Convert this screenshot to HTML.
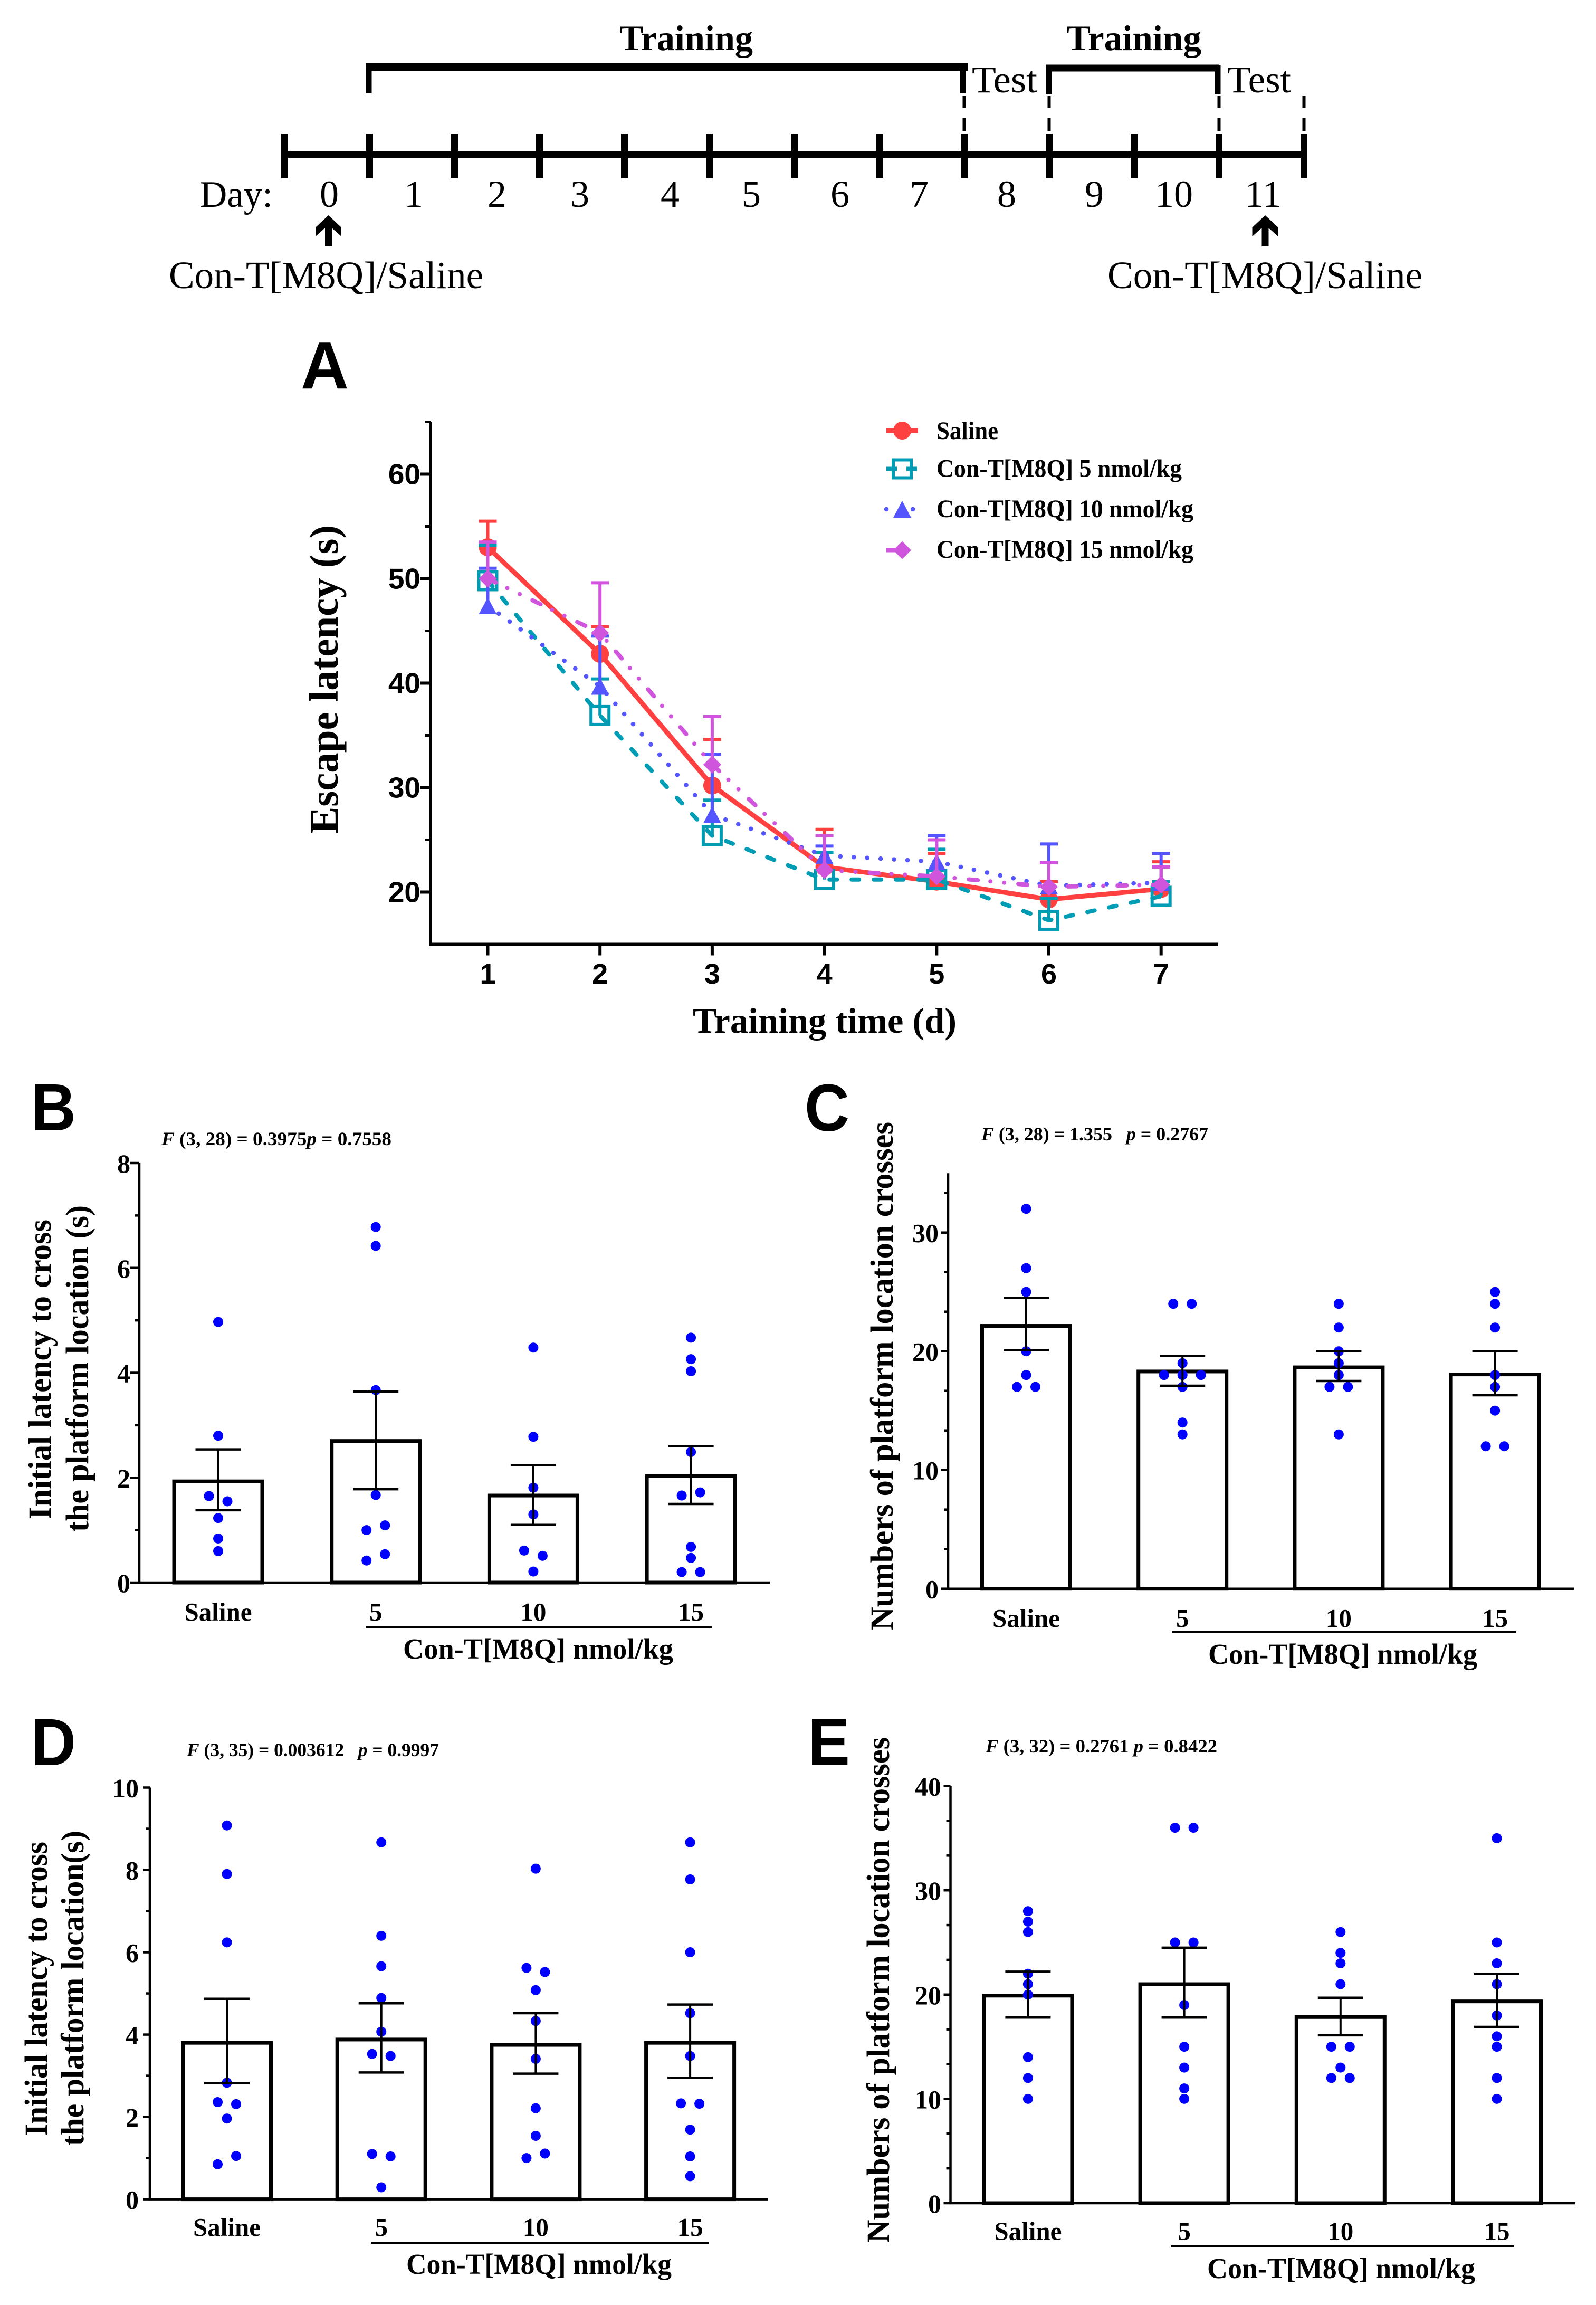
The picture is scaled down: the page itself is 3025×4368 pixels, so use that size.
<!DOCTYPE html>
<html lang="en">
<head>
<meta charset="utf-8">
<title>Con-T[M8Q] water maze results</title>
<style>
html,body{margin:0;padding:0;background:#fff;width:3025px;height:4368px;overflow:hidden}
svg{display:block}
text{font-family:"Liberation Serif",serif;fill:#000}
.b{font-weight:700}
.letter{font-family:"Liberation Sans",sans-serif;font-weight:700;font-size:126px}
.stat{font-weight:700;font-size:36px}
.title{font-weight:700}
</style>
</head>
<body>
<svg id="figure" xmlns="http://www.w3.org/2000/svg" width="3025" height="4368" viewBox="0 0 3025 4368">
<rect x="0" y="0" width="3025" height="4368" fill="#fff"/>

<g id="timeline">
<text class="b" x="1174" y="95" font-size="68" textLength="253" lengthAdjust="spacingAndGlyphs">Training</text>
<text class="b" x="2021" y="95" font-size="68" textLength="256" lengthAdjust="spacingAndGlyphs">Training</text>
<text x="1842" y="175" font-size="72" textLength="124" lengthAdjust="spacingAndGlyphs">Test</text>
<text x="2326" y="175" font-size="72" textLength="121" lengthAdjust="spacingAndGlyphs">Test</text>
<path d="M699 177V127H1825V177" fill="none" stroke="#000" stroke-width="11"/>
<path d="M694 127H1834" fill="none" stroke="#000" stroke-width="14"/>
<path d="M1988 179V129H2308V179" fill="none" stroke="#000" stroke-width="11"/>
<path d="M1983 129H2311" fill="none" stroke="#000" stroke-width="13"/>
<text x="379" y="392" font-size="71" textLength="138" lengthAdjust="spacingAndGlyphs">Day:</text>
<path d="M533 292.5H2478" stroke="#000" stroke-width="13" fill="none"/>
<path d="M622.5 408L647 431V448L629 432V467H616V432L598 448V431Z" fill="#000"/>
<path d="M2398 408L2422.5 431V448L2404.5 432V467H2391.5V432L2373.5 448V431Z" fill="#000"/>
<text x="320" y="546" font-size="73" textLength="596" lengthAdjust="spacingAndGlyphs">Con-T[M8Q]/Saline</text>
<text x="2099" y="546" font-size="73" textLength="597" lengthAdjust="spacingAndGlyphs">Con-T[M8Q]/Saline</text>
</g>

<g id="panel-a">
<text class="letter" x="570" y="736">A</text>
<text class="title" font-size="77" transform="translate(640 1580) rotate(-90)" textLength="585" lengthAdjust="spacingAndGlyphs">Escape latency (s)</text>
<text class="title" font-size="68" x="1313" y="1957" textLength="500" lengthAdjust="spacingAndGlyphs">Training time (d)</text>
<g>
<text class="b" x="1775" y="832" font-size="48" textLength="117" lengthAdjust="spacingAndGlyphs">Saline</text>
<text class="b" x="1775" y="903.5" font-size="48" textLength="465" lengthAdjust="spacingAndGlyphs">Con-T[M8Q] 5 nmol/kg</text>
<text class="b" x="1775" y="980" font-size="48" textLength="487" lengthAdjust="spacingAndGlyphs">Con-T[M8Q] 10 nmol/kg</text>
<text class="b" x="1775" y="1057" font-size="48" textLength="487" lengthAdjust="spacingAndGlyphs">Con-T[M8Q] 15 nmol/kg</text>
</g>
</g>

<g id="panel-b">
<text class="letter" x="59" y="2142" textLength="85" lengthAdjust="spacingAndGlyphs">B</text>
<text class="stat" x="306" y="2170" textLength="436" lengthAdjust="spacingAndGlyphs"><tspan font-style="italic">F</tspan> (3, 28) = 0.3975<tspan font-style="italic">p</tspan> = 0.7558</text>
<text class="title" font-size="61" transform="translate(96 2879) rotate(-90)" textLength="568" lengthAdjust="spacingAndGlyphs">Initial latency to cross</text>
<text class="title" font-size="61" transform="translate(167 2903) rotate(-90)" textLength="619" lengthAdjust="spacingAndGlyphs">the platform location (s)</text>
<text class="title" font-size="55" x="764" y="3143" textLength="512" lengthAdjust="spacingAndGlyphs">Con-T[M8Q] nmol/kg</text>
</g>

<g id="panel-c">
<text class="letter" x="1525" y="2143" textLength="85" lengthAdjust="spacingAndGlyphs">C</text>
<text class="stat" x="1860" y="2161" textLength="430" lengthAdjust="spacingAndGlyphs" xml:space="preserve"><tspan font-style="italic">F</tspan> (3, 28) = 1.355   <tspan font-style="italic">p</tspan> = 0.2767</text>
<text class="title" font-size="61" transform="translate(1692 3089) rotate(-90)" textLength="963" lengthAdjust="spacingAndGlyphs">Numbers of platform location crosses</text>
<text class="title" font-size="55" x="2290" y="3153" textLength="510" lengthAdjust="spacingAndGlyphs">Con-T[M8Q] nmol/kg</text>
</g>

<g id="panel-d">
<text class="letter" x="59" y="3345" textLength="85" lengthAdjust="spacingAndGlyphs">D</text>
<text class="stat" x="354" y="3328" textLength="478" lengthAdjust="spacingAndGlyphs" xml:space="preserve"><tspan font-style="italic">F</tspan> (3, 35) = 0.003612   <tspan font-style="italic">p</tspan> = 0.9997</text>
<text class="title" font-size="61" transform="translate(89 4048) rotate(-90)" textLength="558" lengthAdjust="spacingAndGlyphs">Initial latency to cross</text>
<text class="title" font-size="61" transform="translate(158 4066) rotate(-90)" textLength="597" lengthAdjust="spacingAndGlyphs">the platform location(s)</text>
<text class="title" font-size="55" x="770" y="4309" textLength="503" lengthAdjust="spacingAndGlyphs">Con-T[M8Q] nmol/kg</text>
</g>

<g id="panel-e">
<text class="letter" x="1531" y="3344" textLength="80" lengthAdjust="spacingAndGlyphs">E</text>
<text class="stat" x="1868" y="3321" textLength="439" lengthAdjust="spacingAndGlyphs"><tspan font-style="italic">F</tspan> (3, 32) = 0.2761 <tspan font-style="italic">p</tspan> = 0.8422</text>
<text class="title" font-size="61" transform="translate(1685 4250) rotate(-90)" textLength="958" lengthAdjust="spacingAndGlyphs">Numbers of platform location crosses</text>
<text class="title" font-size="55" x="2288" y="4317" textLength="508" lengthAdjust="spacingAndGlyphs">Con-T[M8Q] nmol/kg</text>
</g>
</svg>

<script>
// ---------- Timeline data ----------
const timelineDays = ['0','1','2','3','4','5','6','7','8','9','10','11'];

// ---------- Panel A data ----------
const trainingDays = [1,2,3,4,5,6,7];
const escapeTicks = [20,30,40,50,60];
const salineEscape = [53,42.8,30.2,22.4,21,19.3,20.3];
const salineEscapeUpper = [55.5,45.4,34.6,26,23.7,21,22.9];
const dose5Escape = [49.8,36.9,25.4,21.2,21.2,17.3,19.6];
const dose5EscapeUpper = [53.2,40.4,28.8,23.8,24.1,19.4,21];
const dose10Escape = [47.4,39.7,27.4,23.5,22.9,20.6,20.9];
const dose10EscapeUpper = [51,44.5,33.2,24.4,25.4,24.6,23.7];
const dose15Escape = [50,44.8,32.2,22.1,21.5,20.5,20.7];
const dose15EscapeUpper = [53.5,49.6,36.8,25.4,25,22.8,22.4];

// ---------- Bar panel shared ----------
const groupLabels = ['Saline','5','10','15'];

// ---------- Panel B data ----------
const bTicks = [0,2,4,6,8];
const bMeans = [1.93,2.7,1.66,2.03];
const bLower = [1.38,1.78,1.1,1.5];
const bUpper = [2.54,3.64,2.24,2.6];
const bPointsSaline = [4.97,2.8,1.65,1.55,1.23,0.84,0.6];
const bPoints5 = [6.78,6.42,3.67,1.67,1.0,1.09,0.42,0.54];
const bPoints10 = [4.48,2.78,1.81,1.3,0.61,0.51,0.21];
const bPoints15 = [4.67,4.26,4.03,2.49,1.66,1.72,0.68,0.47,0.2,0.2];

// ---------- Panel C data ----------
const cTicks = [0,10,20,30];
const cMeans = [22.14,18.3,18.65,18.05];
const cLower = [20.1,17.1,17.5,16.3];
const cUpper = [24.5,19.6,20,20];
const cPointsSaline = [32,27,25,20,18,17,17];
const cPoints5 = [24,24,19,18,18,18,17,14,13];
const cPoints10 = [24,22,20,19,18,17,17,13];
const cPoints15 = [25,24,22,18,17,15,12,12];

// ---------- Panel D data ----------
const dTicks = [0,2,4,6,8,10];
const dMeans = [3.8,3.88,3.75,3.8];
const dLower = [2.82,3.08,3.05,2.95];
const dUpper = [4.87,4.76,4.52,4.73];
const dPointsSaline = [9.08,7.9,6.24,2.83,2.36,2.31,1.96,0.85,1.05];
const dPoints5 = [8.67,6.4,5.66,4.89,4.07,3.53,3.48,1.1,1.04,0.29];
const dPoints10 = [8.03,5.62,5.52,5.08,4.33,3.41,2.21,1.54,1.0,1.11];
const dPoints15 = [8.67,7.77,6.0,4.52,3.48,2.33,2.32,1.69,1.04,0.56];

// ---------- Panel E data ----------
const eTicks = [0,10,20,30,40];
const eMeans = [19.9,21,17.85,19.35];
const eLower = [17.8,17.8,16.1,16.9];
const eUpper = [22.2,24.5,19.7,22];
const ePointsSaline = [28,27,26,22,21,20,14,12,10];
const ePoints5 = [36,36,25,25,19,15,13,11,10];
const ePoints10 = [26,24,23,21,15,15,13,12,12];
const ePoints15 = [35,25,23,21,18,16,15,12,10];

const NS = 'http://www.w3.org/2000/svg';
function mk(tag, attrs, parent, txt) {
  const n = document.createElementNS(NS, tag);
  for (const k in attrs) n.setAttribute(k, attrs[k]);
  if (txt !== undefined) n.textContent = txt;
  parent.appendChild(n);
  return n;
}

// ---------- Timeline ----------
(function () {
  const g = document.getElementById('timeline');
  const x0 = 539.5, step = 161, count = timelineDays.length + 1;
  const pos = i => x0 + i * step;
  for (let i = 0; i < count; i++) {
    const t = mk('line', {x1: pos(i), x2: pos(i), y1: 253, y2: 338, stroke: '#000', 'stroke-width': 13}, g);
    
    
  }
  [8, 9, 11, 12].forEach(i => {
    const d1 = mk('line', {x1: pos(i), x2: pos(i), y1: 182, y2: 204, stroke: '#000', 'stroke-width': 6}, g);
    
    
    const d2 = mk('line', {x1: pos(i), x2: pos(i), y1: 224, y2: 248, stroke: '#000', 'stroke-width': 6}, g);
    
    
  });
  const labelCentres = [624,784,942,1099,1270,1424,1592,1742,1908,2074,2225,2394];
  timelineDays.forEach((d, i) => {
    const t = mk('text', {x: labelCentres[i], y: 392, 'font-size': 72, 'text-anchor': 'middle'}, g, d);
    
    
  });
})();

// ---------- Panel A ----------
(function () {
  const g = document.getElementById('panel-a');
  const x = d => 924.5 + (d - 1) * 212.7;
  const y = v => 1690.5 - (v - 20) * 19.8;
  const axisLeft = 816, axisBottom = y(15), axisTop = y(65), axisRight = 2309;

  const ax = mk('path', {d: `M${axisLeft} ${axisTop}V${axisBottom}H${axisRight}`, fill: 'none', stroke: '#000', 'stroke-width': 6}, g);
  
  

  escapeTicks.forEach(v => {
    const t = mk('line', {x1: axisLeft - 20, x2: axisLeft, y1: y(v), y2: y(v), stroke: '#000', 'stroke-width': 6}, g);
    
    
    const m = mk('line', {x1: axisLeft - 11, x2: axisLeft, y1: y(v + 5), y2: y(v + 5), stroke: '#000', 'stroke-width': 5}, g);
    
    
    const l = mk('text', {x: axisLeft - 19, y: y(v) + 19, 'font-size': 55, 'text-anchor': 'end', style: 'font-family:"Liberation Sans",sans-serif;font-weight:700'}, g, String(v));
    
    
  });
  trainingDays.forEach(d => {
    const t = mk('line', {x1: x(d), x2: x(d), y1: axisBottom, y2: axisBottom + 21, stroke: '#000', 'stroke-width': 6}, g);
    
    
    const l = mk('text', {x: x(d), y: 1864, 'font-size': 54, 'text-anchor': 'middle', style: 'font-family:"Liberation Sans",sans-serif;font-weight:700'}, g, String(d));
    
    
  });

  function marker(kind, cx, cy, color, parent) {
    if (kind === 'circle') return mk('ellipse', {cx, cy, rx: 17, ry: 17, fill: color}, parent);
    if (kind === 'square') return mk('rect', {x: cx - 17, y: cy - 17, width: 34, height: 34, fill: 'none', stroke: color, 'stroke-width': 6}, parent);
    if (kind === 'triangle') return mk('path', {d: `M${cx} ${cy - 16}L${cx + 17} ${cy + 16}H${cx - 17}Z`, fill: color}, parent);
    return mk('path', {d: `M${cx} ${cy - 17}L${cx + 17} ${cy}L${cx} ${cy + 17}L${cx - 17} ${cy}Z`, fill: color}, parent);
  }

  const styles = [
    {values: salineEscape, upper: salineEscapeUpper, color: '#FF4040', kind: 'circle', dash: null, w: 9, legendY: 816, lx2: 1740, ldash: null, lcap: 'butt'},
    {values: dose5Escape, upper: dose5EscapeUpper, color: '#009CB4', kind: 'square', dash: '14 28', w: 8, legendY: 888.5, lx2: 1738, ldash: '20 18 20', lcap: 'butt'},
    {values: dose10Escape, upper: dose10EscapeUpper, color: '#5555FF', kind: 'triangle', dash: '0.1 25.4', w: 8.5, legendY: 965, lx2: 1731, ldash: '0.1 50', lcap: 'round'},
    {values: dose15Escape, upper: dose15EscapeUpper, color: '#D055DD', kind: 'diamond', dash: '17 24 0.1 26 0.1 27', w: 8, legendY: 1042.5, lx2: 1705, ldash: null, lcap: 'butt'}
  ];

  styles.forEach(s => {
    const sg = mk('g', {}, g);
    
    
    const pts = trainingDays.map((d, i) => x(d) + ',' + y(s.values[i])).join(' ');
    const attrs = {points: pts, fill: 'none', stroke: s.color, 'stroke-width': s.w, 'stroke-linejoin': 'round'};
    if (s.dash) { attrs['stroke-dasharray'] = s.dash; attrs['stroke-linecap'] = 'round'; }
    const line = mk('polyline', attrs, sg);
    
    
    trainingDays.forEach((d, i) => {
      const cx = x(d), cy = y(s.values[i]), top = y(s.upper[i]);
      const mrk = marker(s.kind, cx, cy, s.color, sg);
      
      
      const eb = mk('path', {d: `M${cx} ${cy}V${top}M${cx - 17} ${top}H${cx + 17}`, fill: 'none', stroke: s.color, 'stroke-width': 6}, sg);
      
      
    });
    const la = {x1: 1680, x2: s.lx2, y1: s.legendY, y2: s.legendY, stroke: s.color, 'stroke-width': s.w, 'stroke-linecap': s.lcap};
    if (s.ldash) la['stroke-dasharray'] = s.ldash;
    const ll = mk('line', la, g);
    
    
    const lm = marker(s.kind, 1710, s.legendY, s.color, g);
    
    
  });
})();

// ---------- Bar panels ----------
function barPanel(id, cfg) {
  const g = document.getElementById(id);
  const y = v => cfg.y0 + (cfg.yMax - cfg.y0) * v / cfg.top;
  const x = i => cfg.c0 + i * cfg.step;

  const ax = mk('path', {d: `M${cfg.axisX} ${y(cfg.top)}V${cfg.y0}H${cfg.right}`, fill: 'none', stroke: '#000', 'stroke-width': 4.5}, g);
  
  

  cfg.ticks.forEach(v => {
    const t = mk('line', {x1: cfg.axisX - cfg.tickLen, x2: cfg.axisX, y1: y(v), y2: y(v), stroke: '#000', 'stroke-width': 4.5}, g);
    
    
    const l = mk('text', {x: cfg.labelX, y: y(v) + 18, 'font-size': 50, 'text-anchor': 'end', class: 'b'}, g, String(v));
    
    
  });
  for (let k = 0; k < cfg.ticks.length - 1 + (cfg.extraMinor ? 1 : 0); k++) {
    const a = cfg.ticks[k], gap = cfg.ticks[1] - cfg.ticks[0];
    for (let j = 1; j < cfg.minorDiv; j++) {
      const v = a + gap * j / cfg.minorDiv;
      if (v > cfg.top) continue;
      const m = mk('line', {x1: cfg.axisX - 8, x2: cfg.axisX, y1: y(v), y2: y(v), stroke: '#000', 'stroke-width': 4.5}, g);
      
      
    }
  }

  groupLabels.forEach((lab, i) => {
    const cx = x(i);
    const bar = mk('rect', {x: cx - cfg.barW / 2 + 3.5, y: y(cfg.means[i]), width: cfg.barW - 7, height: cfg.y0 - y(cfg.means[i]), fill: '#fff', stroke: '#000', 'stroke-width': 7}, g);
    
    

    const pts = cfg.points[i];
    let k = 0;
    while (k < pts.length) {
      let e = k;
      while (e + 1 < pts.length && Math.abs(y(pts[e + 1]) - y(pts[e])) < 17) e++;
      const n = e - k + 1;
      for (let q = k; q <= e; q++) {
        const off = n === 1 ? 0 : (q - k - (n - 1) / 2) * 35;
        const dot = mk('circle', {cx: cx + off, cy: y(pts[q]), r: 9.5, fill: '#0000FF'}, g);
        
        
      }
      k = e + 1;
    }

    const lo = y(cfg.lower[i]), hi = y(cfg.upper[i]);
    const eb = mk('path', {d: `M${cx} ${lo}V${hi}`, fill: 'none', stroke: '#000', 'stroke-width': 4}, g);
    
    
    const caps = mk('path', {d: `M${cx - 43} ${lo}H${cx + 43}M${cx - 43} ${hi}H${cx + 43}`, fill: 'none', stroke: '#000', 'stroke-width': 4.5}, g);
    
    

    const tl = mk('text', {x: cx, y: cfg.catY, 'font-size': 49, 'text-anchor': 'middle', class: 'b'}, g, lab);
    
    
  });

  const ul = mk('line', {x1: cfg.ulX1, x2: cfg.ulX2, y1: cfg.ulY, y2: cfg.ulY, stroke: '#000', 'stroke-width': 4}, g);
  
  
}

barPanel('panel-b', {axisX: 264, y0: 2999, yMax: 2204, top: 8, right: 1459, c0: 413.5, step: 298.7, barW: 174, tickLen: 17, labelX: 247, ticks: bTicks, minorDiv: 2,
  means: bMeans, lower: bLower, upper: bUpper, points: [bPointsSaline, bPoints5, bPoints10, bPoints15],
  catY: 3071, ulX1: 694, ulX2: 1349, ulY: 3083});
barPanel('panel-c', {axisX: 1797, y0: 3010.7, yMax: 2223.2, top: 35, right: 2983, c0: 1945, step: 296.2, barW: 174, tickLen: 13, labelX: 1779, ticks: cTicks, minorDiv: 3, extraMinor: true,
  means: cMeans, lower: cLower, upper: cUpper, points: [cPointsSaline, cPoints5, cPoints10, cPoints15],
  catY: 3083, ulX1: 2222, ulX2: 2874, ulY: 3093});
barPanel('panel-d', {axisX: 284, y0: 4167.6, yMax: 3387.5, top: 10, right: 1456, c0: 430, step: 292.7, barW: 174, tickLen: 13, labelX: 263, ticks: dTicks, minorDiv: 2,
  means: dMeans, lower: dLower, upper: dUpper, points: [dPointsSaline, dPoints5, dPoints10, dPoints15],
  catY: 4237, ulX1: 703, ulX2: 1344, ulY: 4250});
barPanel('panel-e', {axisX: 1801.5, y0: 4175, yMax: 3384.6, top: 40, right: 2986, c0: 1948.4, step: 296.2, barW: 174, tickLen: 13, labelX: 1784, ticks: eTicks, minorDiv: 3,
  means: eMeans, lower: eLower, upper: eUpper, points: [ePointsSaline, ePoints5, ePoints10, ePoints15],
  catY: 4244.5, ulX1: 2219, ulX2: 2870, ulY: 4257});
</script>
</body>
</html>
